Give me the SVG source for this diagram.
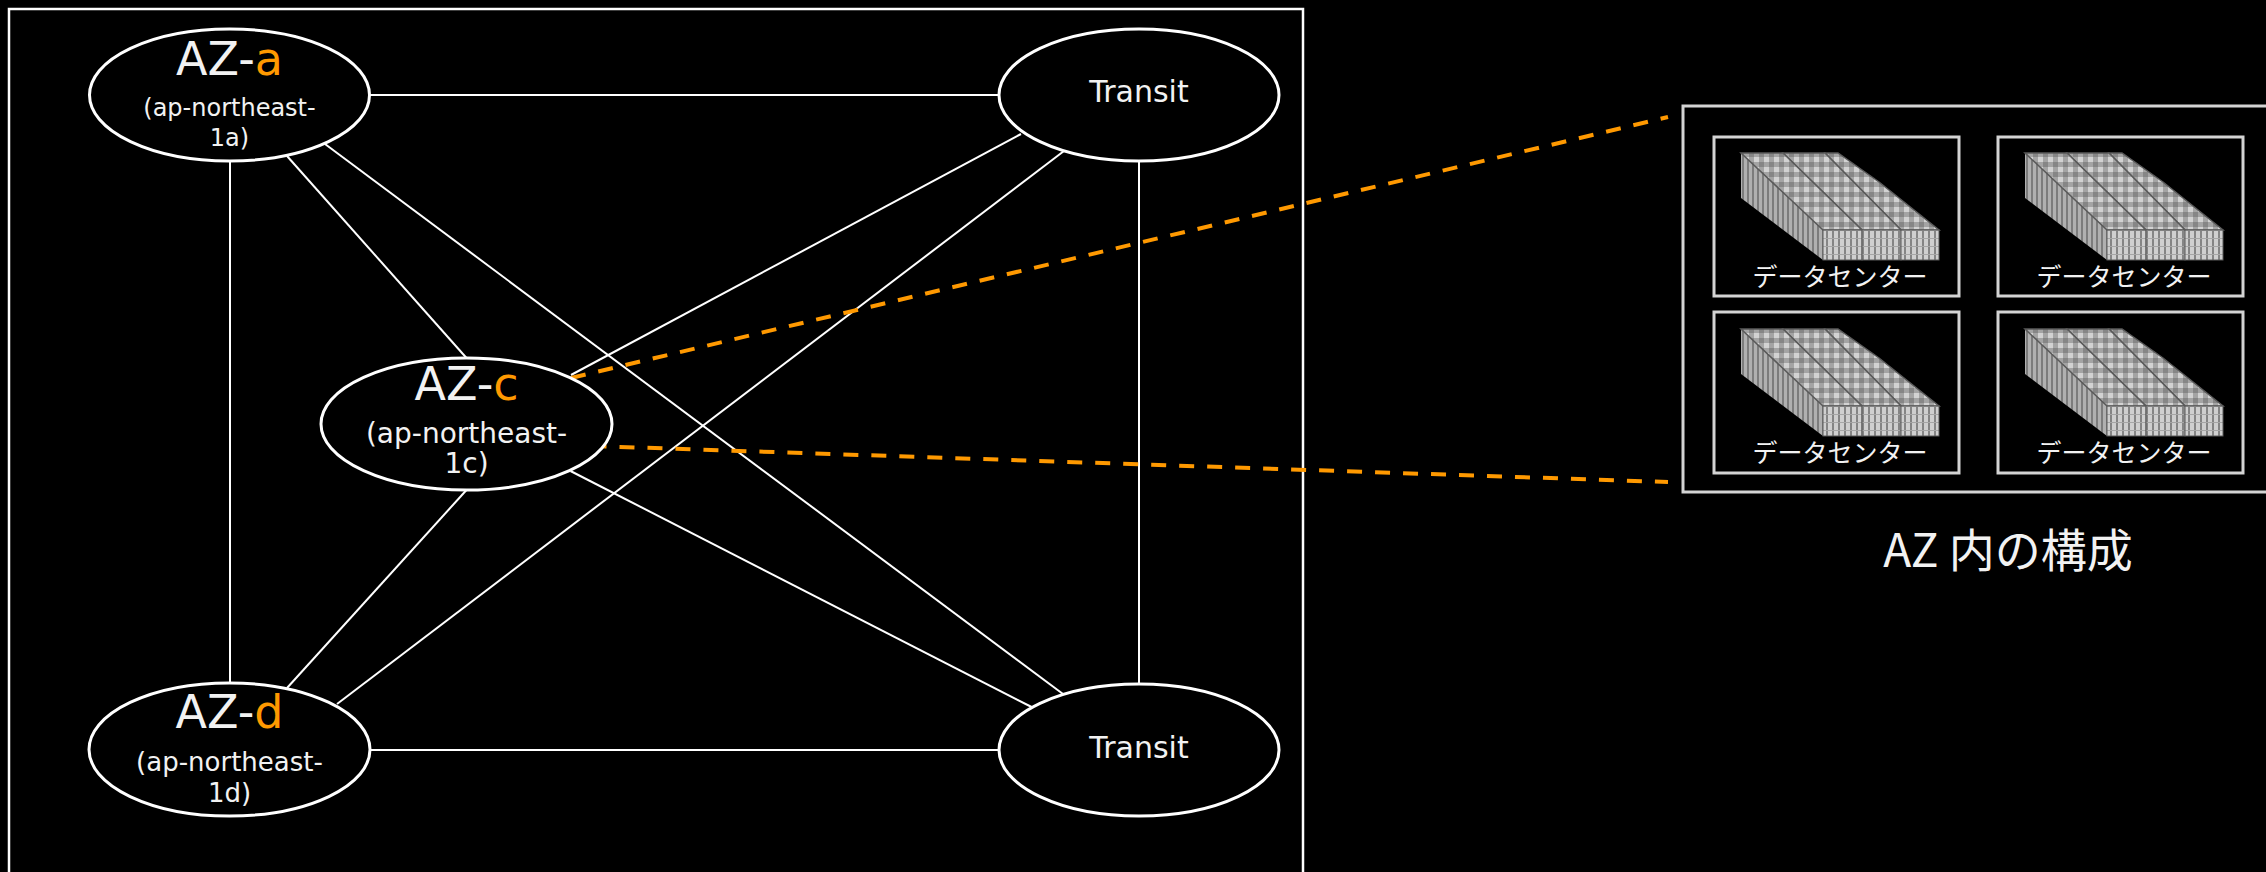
<svg xmlns="http://www.w3.org/2000/svg" xmlns:xlink="http://www.w3.org/1999/xlink" width="2266" height="872" viewBox="0 0 2266 872">
  <style>
    .node ellipse { fill: #000; stroke: #fff; stroke-width: 3; }
    .conn line { stroke: #fff; stroke-width: 2; }
    .dash { stroke: #ff9900; stroke-width: 4; stroke-dasharray: 15 13; fill: none; }
    .big { font-family: "DejaVu Sans", Verdana, sans-serif; font-size: 46px; fill: #f2f2f2; text-anchor: middle; }
    .sm { font-family: "DejaVu Sans", Verdana, sans-serif; fill: #f2f2f2; text-anchor: middle; }
    .or { fill: #ff9900; }
    .frame { fill: none; stroke: #fff; stroke-width: 2.5; }
    .gbox { fill: none; stroke: #d4d4d4; stroke-width: 3; }
    .jp { font-family: "Noto Sans CJK JP", sans-serif; fill: #f2f2f2; text-anchor: middle; }
    .top { fill: url(#checker); stroke: #5a5a5a; stroke-width: 1.5; }
    .front { fill: url(#stripes); stroke: #5a5a5a; stroke-width: 1; }
  </style>
  <defs>
    <pattern id="checker" width="10" height="10" patternUnits="userSpaceOnUse">
      <rect width="10" height="10" fill="#a4a4a4"/>
      <rect width="5" height="5" fill="#d2d2d2"/>
      <rect x="5" y="5" width="5" height="5" fill="#868686"/>
    </pattern>
    <pattern id="stripes" width="6" height="8" patternUnits="userSpaceOnUse">
      <rect width="6" height="8" fill="#858585"/>
      <rect width="4" height="8" fill="#cfcfcf"/>
      <rect y="5" width="6" height="1" fill="#a6a6a6"/>
    </pattern>
    <pattern id="side" width="5" height="6" patternUnits="userSpaceOnUse">
      <rect width="5" height="6" fill="#7c7c7c"/>
      <rect width="3" height="6" fill="#b0b0b0"/>
    </pattern>
    <g id="rack">
      <polygon points="27,16 109,93 109,123 27,61" fill="url(#side)"/>
      <polygon class="top" points="111,16 124,16 165,45 225,93 187,93"/>
      <polygon class="top" points="69,16 111,16 187,93 148,93"/>
      <polygon class="top" points="27,16 69,16 148,93 109,93"/>
      <rect class="front" x="109" y="93" width="39" height="30"/>
      <rect class="front" x="148" y="93" width="39" height="30"/>
      <rect class="front" x="187" y="93" width="38" height="30"/>
    </g>
  </defs>

  <rect width="2266" height="872" fill="#000"/>

  <rect id="region-frame" class="frame" x="9" y="9" width="1294" height="900"/>

  <g id="connectors" class="conn">
    <line x1="370" y1="95" x2="999" y2="95"/>
    <line x1="370" y1="750" x2="999" y2="750"/>
    <line x1="230" y1="161" x2="230" y2="683"/>
    <line x1="1139" y1="161" x2="1139" y2="684"/>
    <line x1="287" y1="156" x2="466.5" y2="358"/>
    <line x1="325" y1="144" x2="1063" y2="694"/>
    <line x1="571" y1="375" x2="1021" y2="134"/>
    <line x1="337" y1="704" x2="1064" y2="151"/>
    <line x1="466.5" y1="490" x2="287" y2="688"/>
    <line x1="570.5" y1="471" x2="1031.6" y2="707"/>
  </g>

  <g id="zoom-lines">
    <line class="dash" x1="571" y1="378" x2="1668" y2="117"/>
    <line class="dash" x1="591.5" y1="446" x2="1668" y2="482"/>
  </g>

  <g id="az-a" class="node">
    <ellipse cx="229.5" cy="95" rx="140" ry="66"/>
    <text class="big" x="229.5" y="75">AZ-<tspan class="or">a</tspan></text>
    <text class="sm" x="229.5" y="116" font-size="24">(ap-northeast-</text>
    <text class="sm" x="229.5" y="146" font-size="24">1a)</text>
  </g>

  <g id="az-c" class="node">
    <ellipse cx="466.5" cy="424" rx="145.5" ry="66"/>
    <text class="big" x="466.5" y="400">AZ-<tspan class="or">c</tspan></text>
    <text class="sm" x="466.5" y="443" font-size="28">(ap-northeast-</text>
    <text class="sm" x="466.5" y="473" font-size="28">1c)</text>
  </g>

  <g id="az-d" class="node">
    <ellipse cx="229.5" cy="749.5" rx="140.5" ry="66.5"/>
    <text class="big" x="229.5" y="728">AZ-<tspan class="or">d</tspan></text>
    <text class="sm" x="229.5" y="771" font-size="26">(ap-northeast-</text>
    <text class="sm" x="229.5" y="802" font-size="26">1d)</text>
  </g>

  <g id="transit-top" class="node">
    <ellipse cx="1139" cy="95" rx="140" ry="66"/>
    <text class="sm" x="1139" y="102" font-size="30">Transit</text>
  </g>

  <g id="transit-bottom" class="node">
    <ellipse cx="1139" cy="750" rx="140" ry="66"/>
    <text class="sm" x="1139" y="758" font-size="30">Transit</text>
  </g>

  <g id="az-detail">
    <rect class="gbox" x="1683" y="106" width="620" height="386"/>
    <g id="dc-1">
      <rect class="gbox" x="1714" y="137" width="245" height="159"/>
      <use xlink:href="#rack" href="#rack" x="1714" y="137"/>
      <text class="jp" x="1840" y="286" font-size="25">データセンター</text>
    </g>
    <g id="dc-2">
      <rect class="gbox" x="1998" y="137" width="245" height="159"/>
      <use xlink:href="#rack" href="#rack" x="1998" y="137"/>
      <text class="jp" x="2124" y="286" font-size="25">データセンター</text>
    </g>
    <g id="dc-3">
      <rect class="gbox" x="1714" y="312" width="245" height="161"/>
      <use xlink:href="#rack" href="#rack" x="1714" y="313"/>
      <text class="jp" x="1840" y="462" font-size="25">データセンター</text>
    </g>
    <g id="dc-4">
      <rect class="gbox" x="1998" y="312" width="245" height="161"/>
      <use xlink:href="#rack" href="#rack" x="1998" y="313"/>
      <text class="jp" x="2124" y="462" font-size="25">データセンター</text>
    </g>
    <text class="jp" x="2008" y="567" font-size="46">AZ 内の構成</text>
  </g>
</svg>
